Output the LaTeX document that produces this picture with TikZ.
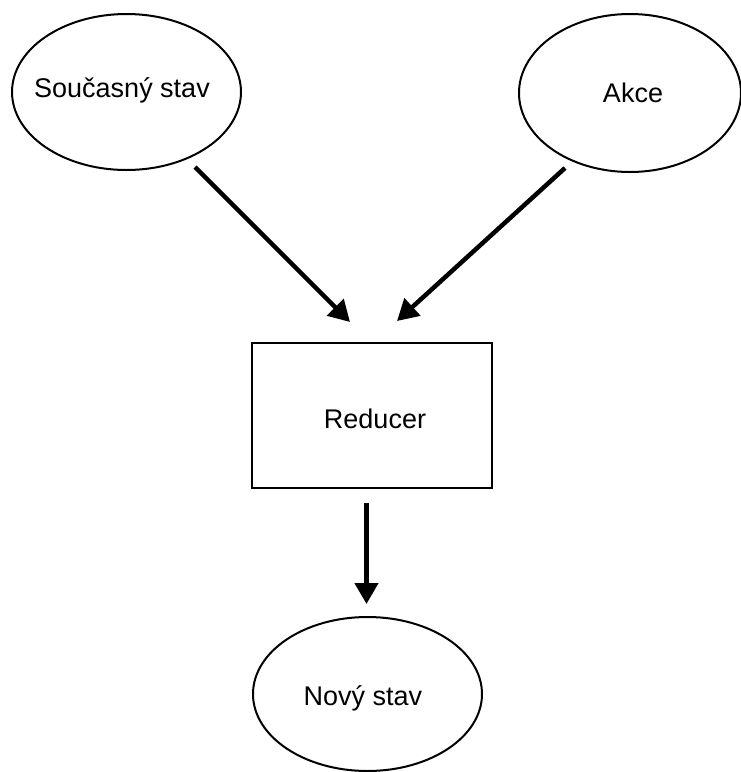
\documentclass[tikz,border=0pt]{standalone}
\usepackage{fontspec}
\setmainfont{Liberation Sans}
\usetikzlibrary{shapes.geometric,arrows.meta}
\begin{document}
\begin{tikzpicture}[x=1pt,y=-1pt,
  every node/.style={font=\fontsize{27}{32}\selectfont, text=black},
  ellnode/.style={draw, ellipse, line width=2pt, inner sep=0pt},
  boxnode/.style={draw, rectangle, line width=2pt, inner sep=0pt, minimum width=240pt, minimum height=145pt},
  flow/.style={line width=4.5pt, -{Triangle[length=21pt,width=23pt]}}
]
\useasboundingbox (0,0) rectangle (741,772);
\node[ellnode, minimum width=229pt, minimum height=156pt] (cur) at (126.5,92) {};
\node (curt) at (122,90) {Současný stav};
\node[ellnode, minimum width=222pt, minimum height=158pt] (akce) at (630,93) {};
\node (akcet) at (633,93) {Akce};
\node[boxnode] (red) at (372,415.5) {};
\node (redt) at (375,419) {Reducer};
\node[ellnode, minimum width=229pt, minimum height=154pt] (novy) at (367.5,694) {};
\node (novyt) at (363,698) {Nový stav};
\coordinate (a1s) at (195,167);
\coordinate (a1e) at (350,322);
\coordinate (a2s) at (565,168);
\coordinate (a2e) at (397,321);
\coordinate (a3s) at (366.5,503);
\coordinate (a3e) at (366.5,604);
\draw[flow] (a1s) -- (a1e);
\draw[flow] (a2s) -- (a2e);
\draw[flow] (a3s) -- (a3e);
\end{tikzpicture}
\end{document}
